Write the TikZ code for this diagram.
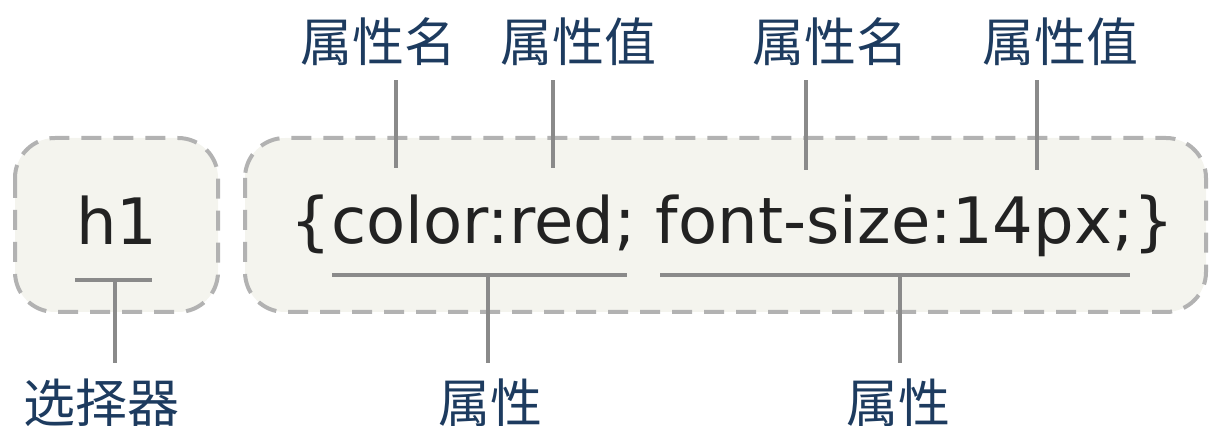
\documentclass[tikz,border=0pt]{standalone}
\usepackage{fontspec}
\setmainfont{DejaVu Sans}
\newfontfamily\cjk{Noto Sans CJK SC}
\usetikzlibrary{positioning,calc}
\definecolor{BoxFill}{HTML}{F4F4EE}
\definecolor{BoxLine}{HTML}{B2B2B2}
\definecolor{TickGray}{HTML}{8A8A8A}
\definecolor{LabelBlue}{HTML}{1D3B5F}
\definecolor{CodeInk}{HTML}{222222}

\begin{document}
\begin{tikzpicture}[
    x=0.5pt, y=-0.5pt,
    dashbox/.style={draw=BoxLine, fill=BoxFill, line width=2pt, dash pattern=on 10pt off 6pt, rounded corners=20pt},
    code/.style={font=\fontsize{32}{36}\selectfont, text=CodeInk, inner sep=0pt},
    label/.style={font=\cjk\fontsize{26}{30}\selectfont, text=LabelBlue, inner sep=2pt},
    tick/.style={draw=TickGray, line width=2pt}
]
\useasboundingbox (0,0) rectangle (1211,426);

% Boxes
\draw [dashbox] (15,138) rectangle (218,312);
\draw [dashbox] (245,138) rectangle (1206,312);

% Code text
\node [code, anchor=base] (h1) at (117,245) {h1};
\node [code, anchor=base west] (css) at (290,244) {\{color:red; font-size:14px;\}};

% Labels
\node [label] (pn1) at (378,42) {属性名};
\node [label] (pv1) at (578,42) {属性值};
\node [label] (pn2) at (830,42) {属性名};
\node [label] (pv2) at (1060,42) {属性值};
\node [label] (sel) at (102,403) {选择器};
\node [label] (prop1) at (490,403) {属性};
\node [label] (prop2) at (898,403) {属性};

% Underlines
\coordinate (u0a) at (75,280);   \coordinate (u0b) at (152,280);
\coordinate (u1a) at (332,275);  \coordinate (u1b) at (627,275);
\coordinate (u2a) at (660,275);  \coordinate (u2b) at (1130,275);
\draw [tick] (u0a) -- (u0b);
\draw [tick] (u1a) -- (u1b);
\draw [tick] (u2a) -- (u2b);

% Drops to lower labels
\coordinate (d0) at (115,280);
\coordinate (d1) at (488,275);
\coordinate (d2) at (900,275);
\draw [tick] (d0) -- ([yshift=6pt]d0 |- sel.north);
\draw [tick] (d1) -- ([yshift=6pt]d1 |- prop1.north);
\draw [tick] (d2) -- ([yshift=6pt]d2 |- prop2.north);

% Ticks from upper labels
\coordinate (t1) at (396,168);
\coordinate (t2) at (553,168);
\coordinate (t3) at (806,170);
\coordinate (t4) at (1037,170);
\draw [tick] ([yshift=-5pt]t1 |- pn1.south) -- (t1);
\draw [tick] ([yshift=-5pt]t2 |- pv1.south) -- (t2);
\draw [tick] ([yshift=-5pt]t3 |- pn2.south) -- (t3);
\draw [tick] ([yshift=-5pt]t4 |- pv2.south) -- (t4);
\end{tikzpicture}
\end{document}
